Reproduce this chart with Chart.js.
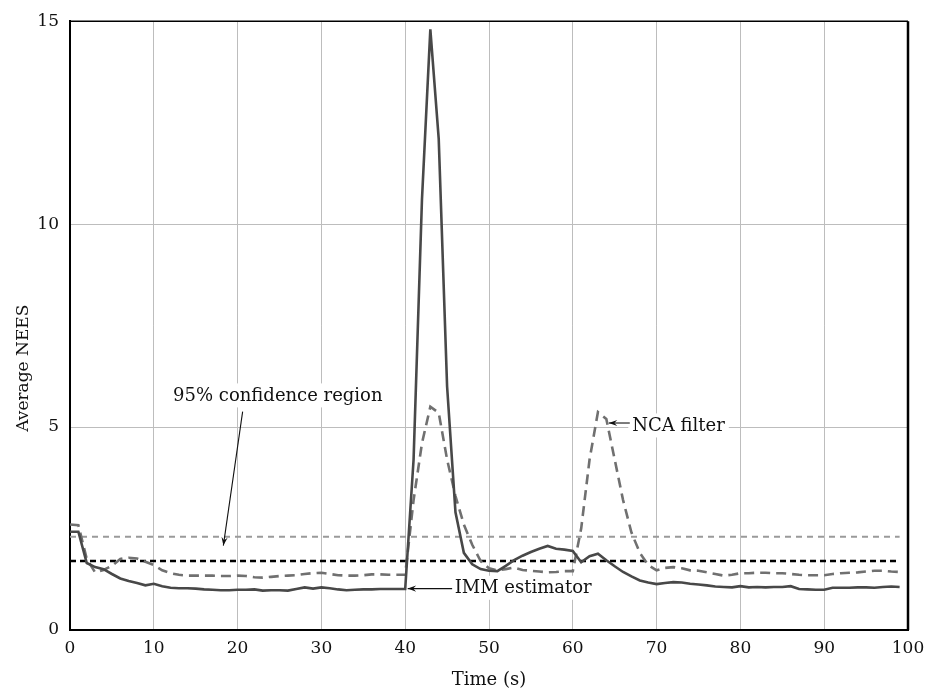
<!DOCTYPE html>
<html>
<head>
    <title>Average NEES</title>
    <script src="https://cdn.jsdelivr.net/npm/chart.js"></script>
    <style>
        html, body { margin: 0; padding: 0; background: #fff; }
    </style>
</head>
<body>
    <canvas id="neesChart" width="934" height="691"></canvas>

    <script>
        // time axis (s)
        const timeSec = [
            0, 1, 2, 3, 4, 5, 6, 7, 8, 9, 10, 11, 12, 13, 14, 15, 16, 17, 18, 19,
            20, 21, 22, 23, 24, 25, 26, 27, 28, 29, 30, 31, 32, 33, 34, 35, 36, 37, 38, 39,
            40, 41, 42, 43, 44, 45, 46, 47, 48, 49, 50, 51, 52, 53, 54, 55, 56, 57, 58, 59,
            60, 61, 62, 63, 64, 65, 66, 67, 68, 69, 70, 71, 72, 73, 74, 75, 76, 77, 78, 79,
            80, 81, 82, 83, 84, 85, 86, 87, 88, 89, 90, 91, 92, 93, 94, 95, 96, 97, 98, 99
        ];

        // IMM estimator (solid)
        const immNees = [
            2.42, 2.42, 1.65, 1.55, 1.50, 1.38, 1.27, 1.21, 1.16, 1.10,
            1.14, 1.08, 1.04, 1.03, 1.03, 1.02, 1.00, 0.99, 0.98, 0.98,
            0.99, 0.99, 1.00, 0.97, 0.98, 0.98, 0.97, 1.01, 1.05, 1.02,
            1.05, 1.03, 1.00, 0.98, 0.99, 1.00, 1.00, 1.01, 1.01, 1.01,
            1.01, 4.20, 10.60, 14.80, 12.10, 6.00, 2.90, 1.90, 1.62, 1.50,
            1.46, 1.45, 1.58, 1.72, 1.83, 1.92, 2.00, 2.07, 2.00, 1.98,
            1.95, 1.67, 1.82, 1.88, 1.72, 1.57, 1.43, 1.32, 1.22, 1.17,
            1.13, 1.16, 1.18, 1.17, 1.14, 1.12, 1.10, 1.07, 1.06, 1.05,
            1.08, 1.05, 1.06, 1.05, 1.06, 1.06, 1.08, 1.01, 1.00, 0.99,
            0.99, 1.04, 1.04, 1.04, 1.05, 1.05, 1.04, 1.06, 1.07, 1.06
        ];

        // NCA filter (dashed)
        const ncaNees = [
            2.60, 2.58, 1.75, 1.42, 1.48, 1.58, 1.75, 1.78, 1.76, 1.68,
            1.60, 1.47, 1.40, 1.36, 1.34, 1.34, 1.34, 1.34, 1.33, 1.33,
            1.34, 1.33, 1.30, 1.29, 1.31, 1.33, 1.34, 1.35, 1.38, 1.40,
            1.41, 1.38, 1.35, 1.34, 1.34, 1.35, 1.37, 1.37, 1.36, 1.36,
            1.36, 3.20, 4.60, 5.50, 5.35, 4.20, 3.30, 2.60, 2.10, 1.70,
            1.52, 1.47, 1.50, 1.54, 1.48, 1.46, 1.44, 1.42, 1.43, 1.45,
            1.45, 2.50, 4.20, 5.37, 5.20, 4.20, 3.20, 2.40, 1.90, 1.60,
            1.47, 1.53, 1.55, 1.52, 1.47, 1.46, 1.42, 1.38, 1.34, 1.36,
            1.40, 1.40, 1.41, 1.41, 1.40, 1.40, 1.38, 1.36, 1.35, 1.35,
            1.35, 1.38, 1.40, 1.41, 1.42, 1.44, 1.46, 1.46, 1.44, 1.43
        ];

        // 95% confidence region bounds
        const confUpper = 2.30;
        const confLower = 1.70;

        const xTicks = [0, 10, 20, 30, 40, 50, 60, 70, 80, 90, 100];
        const yTicks = [0, 5, 10, 15];

        // annotation anchors in data units
        const notes = [
            { text: '95% confidence region', tx: 24.8, ty: 5.78, align: 'center', from: [20.6, 5.38], to: [18.3, 2.08] },
            { text: 'NCA filter', tx: 67.1, ty: 5.04, align: 'left', from: [66.8, 5.1], to: [64.3, 5.1] },
            { text: 'IMM estimator', tx: 45.9, ty: 1.04, align: 'left', from: [45.6, 1.02], to: [40.3, 1.02] }
        ];

        const serif = '"DejaVu Serif", "Liberation Serif", serif';

        const toPoints = (xs, ys) => xs.map((x, i) => ({ x: x, y: ys[i] }));
        const flat = (v) => [{ x: timeSec[0], y: v }, { x: timeSec[timeSec.length - 1], y: v }];

        const framePlugin = {
            id: 'frame',
            afterDatasetsDraw(chart) {
                const { ctx, chartArea: a } = chart;
                ctx.save();
                ctx.strokeStyle = '#000';
                ctx.lineWidth = 1.5;
                ctx.beginPath();
                ctx.moveTo(a.left, a.top);
                ctx.lineTo(a.right, a.top);
                ctx.stroke();
                ctx.lineWidth = 2.5;
                ctx.beginPath();
                ctx.moveTo(a.right, a.top);
                ctx.lineTo(a.right, a.bottom);
                ctx.stroke();
                ctx.restore();
            }
        };

        const notesPlugin = {
            id: 'notes',
            afterDraw(chart) {
                const { ctx } = chart;
                const xs = chart.scales.x, ys = chart.scales.y;
                ctx.save();
                ctx.font = '18px ' + serif;
                ctx.textBaseline = 'middle';
                notes.forEach(n => {
                    const px = xs.getPixelForValue(n.tx), py = ys.getPixelForValue(n.ty);
                    const w = ctx.measureText(n.text).width;
                    const left = n.align === 'center' ? px - w / 2 : px;
                    ctx.fillStyle = '#fff';
                    ctx.fillRect(left - 4, py - 12, w + 8, 24);
                    ctx.fillStyle = '#111';
                    ctx.textAlign = 'left';
                    ctx.fillText(n.text, left, py + 1);

                    const x1 = xs.getPixelForValue(n.from[0]), y1 = ys.getPixelForValue(n.from[1]);
                    const x2 = xs.getPixelForValue(n.to[0]), y2 = ys.getPixelForValue(n.to[1]);
                    ctx.strokeStyle = '#111';
                    ctx.lineWidth = 1.1;
                    ctx.beginPath();
                    ctx.moveTo(x1, y1);
                    ctx.lineTo(x2, y2);
                    ctx.stroke();
                    const ang = Math.atan2(y2 - y1, x2 - x1);
                    const len = 9, half = 0.35;
                    ctx.fillStyle = '#111';
                    ctx.beginPath();
                    ctx.moveTo(x2, y2);
                    ctx.lineTo(x2 - len * Math.cos(ang - half), y2 - len * Math.sin(ang - half));
                    ctx.lineTo(x2 - len * 0.6 * Math.cos(ang), y2 - len * 0.6 * Math.sin(ang));
                    ctx.lineTo(x2 - len * Math.cos(ang + half), y2 - len * Math.sin(ang + half));
                    ctx.closePath();
                    ctx.fill();
                });

                // y axis title, placed like the original
                ctx.font = '17px ' + serif;
                ctx.fillStyle = '#111';
                ctx.textAlign = 'center';
                ctx.textBaseline = 'middle';
                ctx.translate(24, ys.getPixelForValue(6.45));
                ctx.rotate(-Math.PI / 2);
                ctx.fillText('Average NEES', 0, 0);
                ctx.restore();
            }
        };

        new Chart(document.getElementById('neesChart'), {
            type: 'line',
            data: {
                datasets: [
                    {
                        label: 'IMM estimator',
                        data: toPoints(timeSec, immNees),
                        borderColor: '#484848',
                        borderWidth: 2.6,
                        pointRadius: 0,
                        tension: 0
                    },
                    {
                        label: 'NCA filter',
                        data: toPoints(timeSec, ncaNees),
                        borderColor: '#707070',
                        borderWidth: 2.6,
                        borderDash: [10, 6],
                        pointRadius: 0,
                        tension: 0
                    },
                    {
                        label: 'upper bound',
                        data: flat(confUpper),
                        borderColor: '#9a9a9a',
                        borderWidth: 2,
                        borderDash: [6, 5],
                        pointRadius: 0
                    },
                    {
                        label: 'lower bound',
                        data: flat(confLower),
                        borderColor: '#000',
                        borderWidth: 2.4,
                        borderDash: [6, 4],
                        pointRadius: 0
                    }
                ]
            },
            options: {
                responsive: false,
                animation: false,
                events: [],
                layout: { padding: { left: 0, right: 26, top: 15, bottom: 0 } },
                plugins: {
                    legend: { display: false },
                    tooltip: { enabled: false }
                },
                scales: {
                    x: {
                        type: 'linear',
                        min: 0,
                        max: 100,
                        afterFit: (s) => { s.height = 61; },
                        afterBuildTicks: (s) => { s.ticks = xTicks.map(v => ({ value: v })); },
                        grid: { color: '#bdbdbd', lineWidth: 1, drawTicks: false },
                        border: { color: '#000', width: 2 },
                        ticks: { color: '#111', padding: 8, maxRotation: 0, font: { family: serif, size: 17 } },
                        title: { display: true, text: 'Time (s)', color: '#111', padding: { top: 4, bottom: 0 }, font: { family: serif, size: 18 } }
                    },
                    y: {
                        min: 0,
                        max: 15,
                        afterFit: (s) => { s.width = 70; },
                        afterBuildTicks: (s) => { s.ticks = yTicks.map(v => ({ value: v })); },
                        grid: { color: '#bdbdbd', lineWidth: 1, drawTicks: false },
                        border: { color: '#000', width: 2 },
                        ticks: { color: '#111', padding: 11, font: { family: serif, size: 17 } }
                    }
                }
            },
            plugins: [framePlugin, notesPlugin]
        });
    </script>
</body>
</html>
